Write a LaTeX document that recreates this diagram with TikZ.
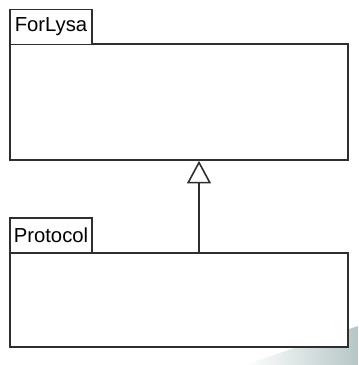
\documentclass[tikz,border=0pt]{standalone}
\usepackage{fontspec}
\setmainfont{Liberation Sans}
\usepackage{tikz}
\usetikzlibrary{arrows.meta}
\definecolor{linegray}{HTML}{2E2E2E}
\definecolor{shadegray}{HTML}{B6C6C6}
\tikzstyle{pkgbody}=[draw=linegray,fill=white,rectangle,line width=1.2pt,minimum width=253.5pt,inner sep=0pt]
\tikzstyle{pkgtab}=[draw=linegray,fill=white,rectangle,line width=1.2pt,minimum width=61.5pt,minimum height=26pt,inner sep=0pt,font=\fontsize{15.2}{18}\selectfont]
\tikzstyle{inherit}=[draw=linegray,line width=1.2pt,-{Triangle[open,length=17pt,width=18pt,line width=1.2pt]}]

\begin{document}
\begin{tikzpicture}[x=0.75pt,y=-0.75pt]
\useasboundingbox (0,0) rectangle (358,365);
\shade[left color=white,right color=shadegray] (245,365) -- (358,326) -- (358,365) -- cycle;
\node[pkgbody,minimum height=87pt] (forbody) at (179,102) {};
\node[pkgtab] (fortab) at (51,27) {ForLysa};
\node[pkgbody,minimum height=70.5pt] (protobody) at (179,300) {};
\node[pkgtab] (prototab) at (51,235.5) {Protocol};
\draw[inherit] ([xshift=15pt]protobody.north) -- ([xshift=15pt]forbody.south);
\end{tikzpicture}
\end{document}
